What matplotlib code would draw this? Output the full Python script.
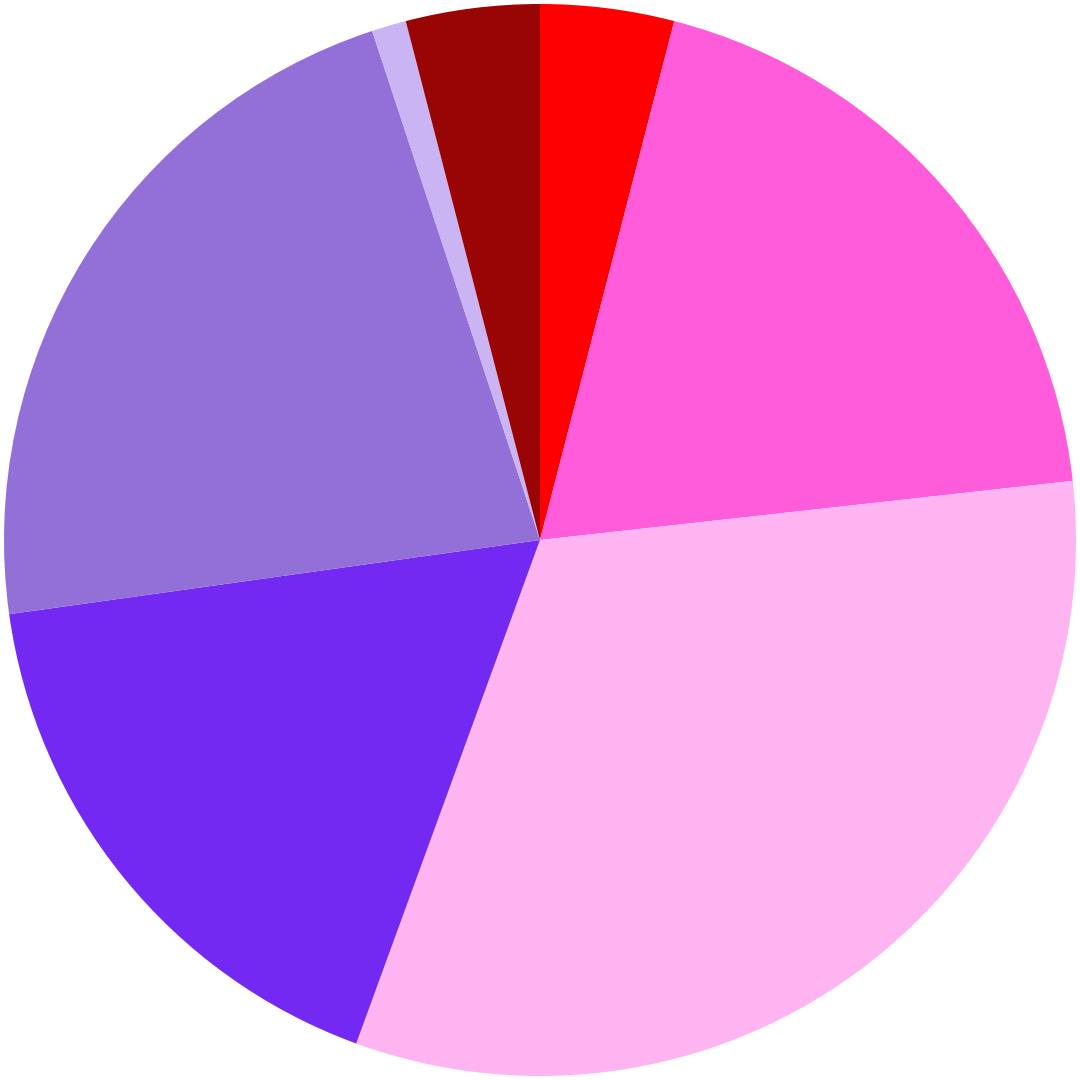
import matplotlib
matplotlib.use('Agg')
import matplotlib.pyplot as plt

# Anteile der Segmente (im Uhrzeigersinn ab 12 Uhr)
labels = ['A', 'B', 'C', 'D', 'E', 'F', 'G']
values = [4.03, 19.21, 32.33, 17.22, 22.14, 1.04, 4.03]
colors = ['#ff0000', '#ff5cdc', '#ffb4f2', '#7329f2', '#9370d8', '#cbb4f4', '#990505']

fig = plt.figure(figsize=(10.8, 10.8), dpi=100)
ax = fig.add_axes([0, 0, 1, 1])

ax.pie(values, colors=colors, startangle=90, counterclock=False,
       radius=1.0, wedgeprops={'linewidth': 0})

# Radius ~536 px bei 1080 px Breite
lim = 540 / 536
ax.set_xlim(-lim, lim)
ax.set_ylim(-lim, lim)
ax.set_aspect('equal')
ax.axis('off')

fig.savefig('out.png', dpi=100, facecolor='white')
